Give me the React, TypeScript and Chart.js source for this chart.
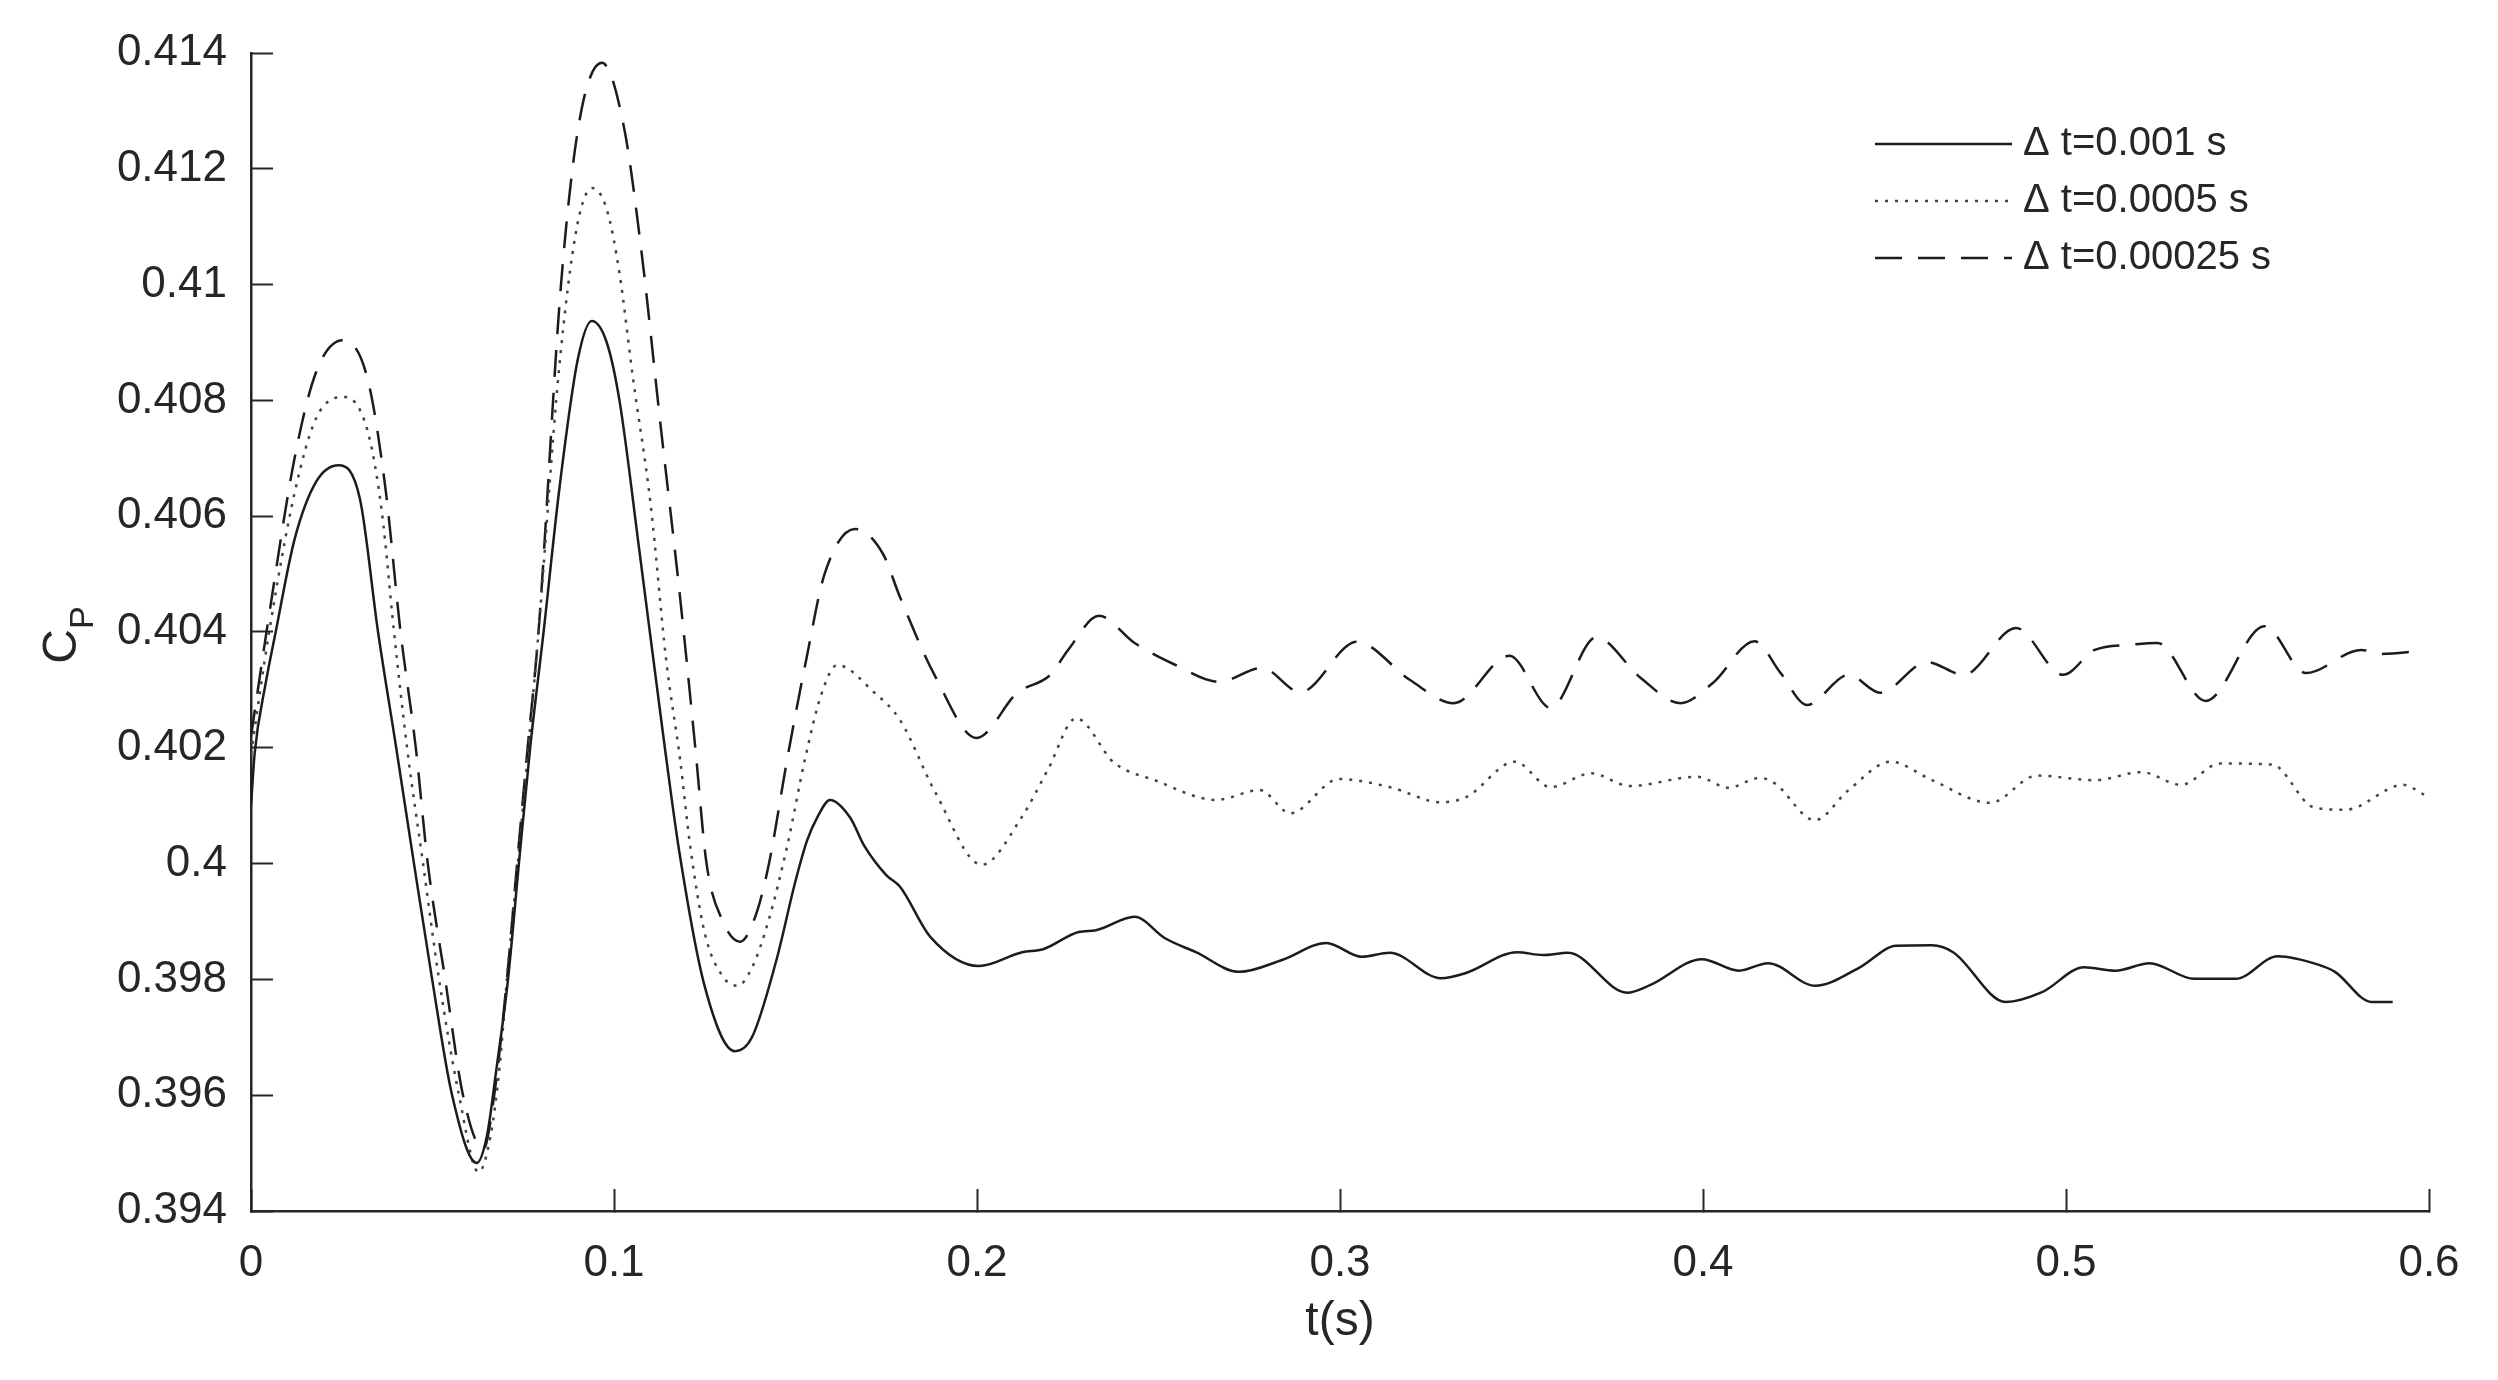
import React, { useEffect, useRef } from 'react';
import { Chart, registerables } from 'chart.js';

Chart.register(...registerables);

// time (s) and power coefficient, one pair of arrays per time step
const tSolid = [
  0, 0.001, 0.004, 0.0068, 0.012, 0.018, 0.0242, 0.03, 0.035, 0.04, 0.0449, 0.0499, 0.0554, 0.0622,
  0.065, 0.0675, 0.0708, 0.0738, 0.0769, 0.0806, 0.085, 0.09, 0.0939, 0.098, 0.1015, 0.107, 0.1138,
  0.118, 0.1249, 0.1333, 0.138, 0.1446, 0.15, 0.1532, 0.156, 0.1595, 0.165, 0.169, 0.175, 0.1788, 0.1872,
  0.2006, 0.2124, 0.2182, 0.228, 0.2328, 0.2434, 0.2518, 0.2603, 0.2722, 0.2842, 0.2962, 0.306,
  0.3137, 0.3278, 0.3347, 0.3488, 0.3559, 0.3628, 0.3791, 0.3854, 0.3997, 0.4099, 0.4179, 0.4309,
  0.443, 0.4532, 0.4631, 0.4689, 0.4834, 0.4934, 0.505, 0.5136, 0.523, 0.5353, 0.5468, 0.5583,
  0.5697, 0.5741, 0.5842, 0.59,
];
const cpSolid = [
  0.401, 0.4019, 0.4031, 0.404, 0.4056, 0.4066, 0.40688, 0.4063, 0.404, 0.402, 0.4, 0.398, 0.396, 0.39483,
  0.3953, 0.3964, 0.398, 0.4, 0.402, 0.404, 0.4065, 0.4087, 0.40937, 0.409, 0.408, 0.4054, 0.4021,
  0.4002, 0.3979, 0.39676, 0.397, 0.3983, 0.3997, 0.4004, 0.4008, 0.4011, 0.4008, 0.4003, 0.3998, 0.3996, 0.39873,
  0.39823, 0.39847, 0.39852, 0.39882, 0.39885, 0.39908, 0.39871, 0.39847, 0.39813, 0.39834, 0.39863, 0.39839,
  0.39846, 0.39802, 0.39811, 0.39847, 0.39842, 0.39846, 0.39777, 0.3979, 0.39835, 0.39815, 0.39828, 0.39789,
  0.3982, 0.39858, 0.39859, 0.39847, 0.39761, 0.39778, 0.39821, 0.39815, 0.39828, 0.39801, 0.39801, 0.3984,
  0.39825, 0.39813, 0.39761, 0.39761,
];

const tDotted = [
  0, 0.005, 0.012, 0.018, 0.0256, 0.032, 0.036, 0.0394, 0.043, 0.0474, 0.0518, 0.0573, 0.0627, 0.066,
  0.0685, 0.0705, 0.0735, 0.0764, 0.0792, 0.0848, 0.0898, 0.094, 0.098, 0.1015, 0.1052, 0.1101, 0.1144,
  0.1182, 0.121, 0.125, 0.13, 0.134, 0.138, 0.1425, 0.1477, 0.1526, 0.157, 0.1615, 0.1716, 0.1788,
  0.1886, 0.2013, 0.2124, 0.2195, 0.2273, 0.2378, 0.249, 0.2659, 0.2779, 0.2863, 0.2997, 0.3138, 0.3278,
  0.3348, 0.3482, 0.358, 0.3692, 0.3798, 0.3984, 0.407, 0.4157, 0.4197, 0.4308, 0.4401, 0.4517, 0.4631,
  0.4791, 0.492, 0.5079, 0.5208, 0.5317, 0.5424, 0.5568, 0.5683, 0.577, 0.5929, 0.5987,
];
const cpDotted = [
  0.4019, 0.404, 0.4064, 0.4077, 0.40806, 0.4075, 0.4061, 0.404, 0.402, 0.4, 0.398, 0.396, 0.39467, 0.3953,
  0.3965, 0.398, 0.4, 0.402, 0.404, 0.4085, 0.411, 0.41167, 0.4113, 0.4102, 0.4084, 0.4062, 0.4035,
  0.4018, 0.4003, 0.3988, 0.39805, 0.39789, 0.3982, 0.399, 0.4003, 0.4018, 0.4029, 0.40343, 0.40296, 0.40248,
  0.40122, 0.39998, 0.40081, 0.40162, 0.40251, 0.40174, 0.40144, 0.4011, 0.40127, 0.40087, 0.40146, 0.40132, 0.40106,
  0.40115, 0.40176, 0.40132, 0.40156, 0.40134, 0.4015, 0.40131, 0.40148, 0.40139, 0.40075, 0.40127, 0.40176, 0.40144,
  0.40105, 0.40152, 0.40144, 0.40158, 0.40136, 0.40173, 0.40171, 0.40097, 0.40093, 0.40136, 0.40119,
];

const tDashed = [
  0, 0.005, 0.012, 0.018, 0.0253, 0.032, 0.037, 0.0412, 0.0454, 0.0487, 0.0535, 0.0584, 0.064, 0.067,
  0.0705, 0.0733, 0.0762, 0.0792, 0.0854, 0.0904, 0.0967, 0.1028, 0.1077, 0.1126, 0.1182, 0.1224, 0.1255,
  0.13, 0.1347, 0.139, 0.1427, 0.1477, 0.1532, 0.158, 0.1664, 0.174, 0.1788, 0.1886, 0.1999, 0.2111,
  0.2202, 0.2251, 0.2336, 0.2434, 0.2547, 0.2667, 0.2785, 0.2891, 0.3046, 0.3193, 0.3313, 0.3467, 0.358,
  0.3706, 0.3826, 0.3938, 0.4027, 0.4142, 0.4214, 0.4286, 0.4401, 0.4488, 0.4617, 0.4718, 0.4862, 0.4992,
  0.5079, 0.518, 0.5252, 0.5385, 0.5547, 0.5661, 0.5813, 0.587, 0.5973,
];
const cpDashed = [
  0.4022, 0.4043, 0.407, 0.4085, 0.40904, 0.4084, 0.4065, 0.404, 0.402, 0.4, 0.398, 0.396, 0.39507, 0.396,
  0.398, 0.4, 0.402, 0.404, 0.41, 0.4128, 0.41383, 0.4127, 0.4105, 0.4077, 0.4046, 0.402, 0.4,
  0.399, 0.39865, 0.3991, 0.4, 0.4018, 0.4036, 0.405, 0.40578, 0.40536, 0.4046, 0.40322, 0.40217, 0.40295,
  0.40326, 0.40369, 0.40428, 0.40381, 0.40343, 0.40314, 0.40338, 0.40296, 0.40383, 0.40317, 0.40277, 0.40359, 0.40269,
  0.40391, 0.40322, 0.40277, 0.40312, 0.40384, 0.40329, 0.40274, 0.40326, 0.40295, 0.40348, 0.40326, 0.40407, 0.40326,
  0.40369, 0.40378, 0.40381, 0.40281, 0.4041, 0.40329, 0.40369, 0.40362, 0.40367,
];

const seriesLabels = ['\u0394 t=0.001 s', '\u0394 t=0.0005 s', '\u0394 t=0.00025 s'];
const xTicks = [0, 0.1, 0.2, 0.3, 0.4, 0.5, 0.6];
const yTicks = [0.394, 0.396, 0.398, 0.4, 0.402, 0.404, 0.406, 0.408, 0.41, 0.412, 0.414];
const xTitle = 't(s)';
const yTitle = 'C';
const yTitleSub = 'P';

const ink = '#262626';
const family = '"Liberation Sans", Arial, Helvetica, sans-serif';

const toPoints = (t: number[], v: number[]) => t.map((x, i) => ({ x, y: v[i] }));
const fmt = (v: number) => String(Number(v.toFixed(4)));

// legend inside the axes and the axis titles (C with subscript P)
const overlay = {
  id: 'overlay',
  afterDraw(chart: any) {
    const { ctx, chartArea } = chart;
    ctx.save();
    chart.data.datasets.forEach((ds: any, i: number) => {
      const y = 144 + i * 57;
      ctx.beginPath();
      ctx.setLineDash(ds.borderDash || []);
      ctx.lineWidth = ds.borderWidth;
      ctx.strokeStyle = ds.borderColor;
      ctx.moveTo(1875, y);
      ctx.lineTo(2012, y);
      ctx.stroke();
      ctx.setLineDash([]);
      ctx.fillStyle = ink;
      ctx.font = `40px ${family}`;
      ctx.textAlign = 'left';
      ctx.textBaseline = 'middle';
      ctx.fillText(ds.label, 2023, y);
    });

    ctx.fillStyle = ink;
    ctx.font = `48px ${family}`;
    ctx.textAlign = 'center';
    ctx.textBaseline = 'middle';
    ctx.fillText(xTitle, (chartArea.left + chartArea.right) / 2, 1322);

    ctx.translate(76, 635);
    ctx.rotate(-Math.PI / 2);
    ctx.textAlign = 'left';
    ctx.textBaseline = 'alphabetic';
    ctx.font = `48px ${family}`;
    const w1 = ctx.measureText(yTitle).width;
    ctx.font = `34px ${family}`;
    const w2 = ctx.measureText(yTitleSub).width;
    const start = -(w1 + w2) / 2;
    ctx.font = `48px ${family}`;
    ctx.fillText(yTitle, start, 0);
    ctx.font = `34px ${family}`;
    ctx.fillText(yTitleSub, start + w1, 17);
    ctx.restore();
  },
};

const App: React.FC = () => {
  const canvasRef = useRef<HTMLCanvasElement>(null);

  useEffect(() => {
    const ctx = canvasRef.current!.getContext('2d')!;
    const line = { pointRadius: 0, borderWidth: 2.5, cubicInterpolationMode: 'monotone', fill: false };

    const chart = new Chart(ctx, {
      type: 'line',
      data: {
        datasets: [
          { ...line, label: seriesLabels[0], data: toPoints(tSolid, cpSolid), borderColor: '#1c1c1c', borderDash: [] },
          { ...line, label: seriesLabels[1], data: toPoints(tDotted, cpDotted), borderColor: '#444444', borderDash: [3, 7] },
          { ...line, label: seriesLabels[2], data: toPoints(tDashed, cpDashed), borderColor: '#1c1c1c', borderDash: [27, 16] },
        ],
      } as any,
      options: {
        animation: false,
        responsive: true,
        maintainAspectRatio: false,
        devicePixelRatio: 1,
        layout: { padding: { top: 53, right: 69, left: 0, bottom: 0 } },
        plugins: { legend: { display: false }, tooltip: { enabled: false } },
        scales: {
          x: {
            type: 'linear',
            min: 0,
            max: 0.6,
            afterBuildTicks: (s: any) => { s.ticks = xTicks.map((value) => ({ value })); },
            afterFit: (s: any) => { s.height = 169; s.paddingLeft = 0; s.paddingRight = 0; },
            grid: { drawOnChartArea: false, tickLength: -22, tickWidth: 2, tickColor: ink },
            border: { display: true, color: ink, width: 2.5 },
            ticks: { color: ink, padding: 48, maxRotation: 0, font: { family, size: 44 }, callback: (v: any) => fmt(v) },
          },
          y: {
            type: 'linear',
            min: 0.394,
            max: 0.414,
            afterBuildTicks: (s: any) => { s.ticks = yTicks.map((value) => ({ value })); },
            afterFit: (s: any) => { s.width = 251; s.paddingTop = 0; s.paddingBottom = 0; },
            grid: { drawOnChartArea: false, tickLength: -22, tickWidth: 2, tickColor: ink },
            border: { display: true, color: ink, width: 2.5 },
            ticks: { color: ink, padding: 46, font: { family, size: 44 }, callback: (v: any) => fmt(v) },
          },
        },
      } as any,
      plugins: [overlay],
    });

    return () => chart.destroy();
  }, []);

  return (
    <div style={{ position: 'absolute', left: 0, top: 0, width: 2498, height: 1380, background: '#fff' }}>
      <canvas ref={canvasRef} />
    </div>
  );
};

export default App;
